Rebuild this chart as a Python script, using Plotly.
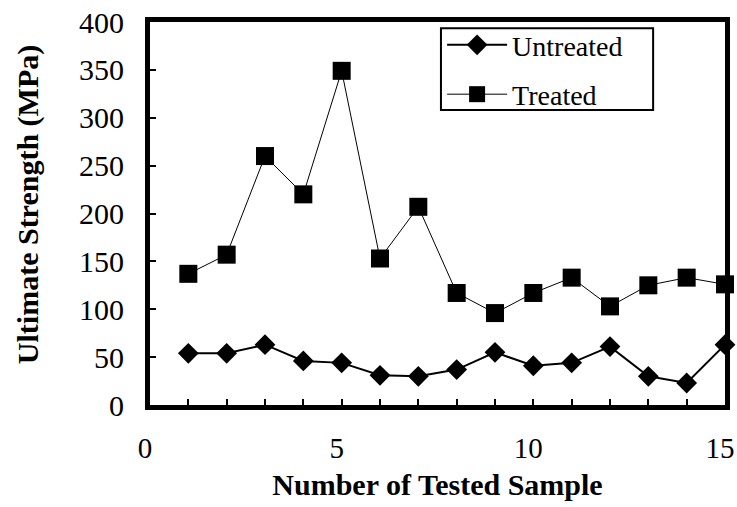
import plotly.graph_objects as go

samples = list(range(1, 16))
untreated = [54, 54, 63, 46, 44, 31, 30, 37, 55, 41, 44, 61, 30, 23, 63]
treated = [137, 157, 260, 220, 349, 153, 207, 117, 96, 117, 133, 103, 125, 133, 126]
x_ticks = [0, 5, 10, 15]
y_ticks = [0, 50, 100, 150, 200, 250, 300, 350, 400]

FONT = "Liberation Serif"

fig = go.Figure()
fig.add_trace(go.Scatter(
    x=samples, y=untreated, name="Untreated", mode="lines+markers",
    legendgroup="a",
    line=dict(color="black", width=2),
    marker=dict(symbol="diamond", size=16, color="black"),
    cliponaxis=False,
))
fig.add_trace(go.Scatter(
    x=samples, y=treated, name="Treated", mode="lines+markers",
    legendgroup="b",
    line=dict(color="black", width=1),
    marker=dict(symbol="square", size=18, color="black"),
    cliponaxis=False,
))

# legend frame
fig.add_shape(type="rect", xref="paper", yref="paper",
              x0=0.506, x1=0.875, y0=0.770, y1=0.984,
              line=dict(color="black", width=2), fillcolor="rgba(0,0,0,0)")

# y-axis title as annotation (slightly above the plot centre, as in the reference)
fig.add_annotation(text="<b>Ultimate Strength (MPa)</b>", xref="paper", yref="paper",
                   x=-0.212, y=0.522, xanchor="center", yanchor="middle",
                   textangle=-90, showarrow=False,
                   font=dict(family=FONT, size=30, color="black"))

fig.update_layout(
    width=737, height=507,
    margin=dict(l=150, r=12, t=22, b=102),
    paper_bgcolor="white", plot_bgcolor="white",
    font=dict(family=FONT, color="black", size=24),
    showlegend=True,
    legend=dict(
        x=0.508, y=1.005, xanchor="left", yanchor="top",
        borderwidth=0, bgcolor="rgba(0,0,0,0)",
        font=dict(family=FONT, size=28, color="black"),
        itemwidth=60, tracegroupgap=10, traceorder="grouped",
    ),
    xaxis=dict(
        range=[0, 15], tickvals=x_ticks, ticktext=[str(v) for v in x_ticks],
        ticks="inside", ticklen=6, tickwidth=2, tickcolor="black",
        minor=dict(dtick=1, ticks="inside", ticklen=6, tickwidth=2, tickcolor="black"),
        showline=True, linewidth=5, linecolor="black", mirror=True,
        showgrid=False, zeroline=False, automargin=False,
        tickfont=dict(family=FONT, size=29),
        ticklabelstandoff=13, ticklabelshift=-5, ticklabeloverflow="allow",
        title=dict(text="<b>Number of Tested Sample</b>", font=dict(family=FONT, size=30), standoff=13),
    ),
    yaxis=dict(
        range=[0, 400], tickvals=y_ticks,
        ticks="inside", ticklen=6, tickwidth=2, tickcolor="black",
        showline=True, linewidth=5, linecolor="black", mirror=True,
        showgrid=False, zeroline=False, automargin=False,
        tickfont=dict(family=FONT, size=30),
        ticklabelstandoff=15, ticklabeloverflow="allow",
    ),
)

fig.write_html("out.html", config={"displayModeBar": False},
               post_script="document.body.style.margin='0';")
